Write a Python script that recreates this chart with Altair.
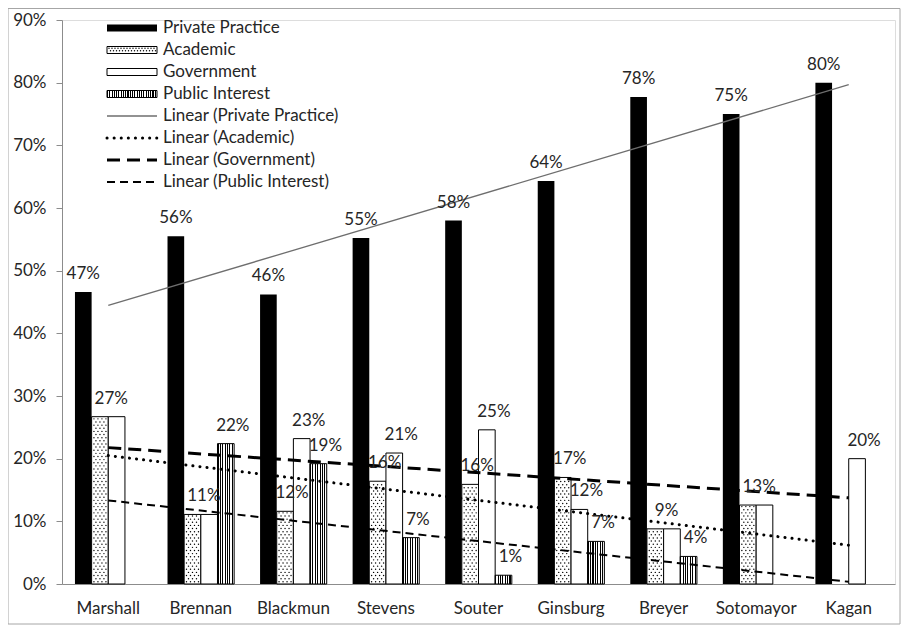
import json
import altair as alt
import pandas as pd

# ---------------- data ----------------
justices = ["Marshall", "Brennan", "Blackmun", "Stevens", "Souter",
            "Ginsburg", "Breyer", "Sotomayor", "Kagan"]
series = ["Private Practice", "Academic", "Government", "Public Interest"]
private_practice = [46.6, 55.5, 46.2, 55.2, 58.0, 64.3, 77.7, 75.0, 80.0]
academic = [26.7, 11.1, 11.6, 16.4, 15.9, 17.0, 8.8, 12.6, 0.0]
government = [26.7, 11.1, 23.2, 20.9, 24.6, 11.9, 8.8, 12.6, 20.0]
public_interest = [0.0, 22.4, 19.2, 7.4, 1.4, 6.8, 4.4, 0.0, 0.0]
y_ticks = [0, 10, 20, 30, 40, 50, 60, 70, 80, 90]
legend_labels = ["Private Practice", "Academic", "Government", "Public Interest",
                 "Linear (Private Practice)", "Linear (Academic)",
                 "Linear (Government)", "Linear (Public Interest)"]

# ---------------- table ----------------
rows = []
for i, j in enumerate(justices):
    for s, vals in zip(series, [private_practice, academic, government, public_interest]):
        tie = s in ("Academic", "Government") and academic[i] == government[i]
        rows.append({"justice": j, "idx": i + 1, "series": s, "value": vals[i], "tie": tie})
df = pd.DataFrame(rows)

FONT = "Lato"
FS = 17
TXT = "#262626"
W, H = 833, 564
PAD_TOP = 12

x_enc = alt.X("justice:N", sort=justices,
              scale=alt.Scale(domain=justices, paddingInner=0.28, paddingOuter=0.14),
              axis=alt.Axis(title=None, labelAngle=0, ticks=False, domainColor="#8c8c8c",
                            labelPadding=16, labelFontSize=FS, labelFont=FONT,
                            labelColor=TXT))
xo_enc = alt.XOffset("series:N", scale=alt.Scale(domain=series))
y_axis = alt.Axis(title=None, values=y_ticks, labelExpr="datum.value + '%'", grid=False,
                  tickSize=6, tickColor="#8c8c8c", domainColor="#8c8c8c",
                  labelPadding=10, labelFontSize=FS, labelFont=FONT, labelColor=TXT)
y_scale = alt.Scale(domain=[0, 90], nice=False)
y_enc = alt.Y("value:Q", scale=y_scale, axis=y_axis)

base = alt.Chart(df)

layers = []

# outer border of the chart area
one = pd.DataFrame({"a": [0]})
layers.append(alt.Chart(one).mark_rect(fillOpacity=0, stroke="#a6a6a6", strokeWidth=1).encode(
    x=alt.value(-54), x2=alt.value(W + 5), y=alt.value(-PAD_TOP + 0.5), y2=alt.value(H + 40)))

# bars
layers.append(base.transform_filter("datum.series == 'Private Practice'").mark_bar(
    color="black").encode(x=x_enc, xOffset=xo_enc, y=y_enc))
layers.append(base.transform_filter(
    "(datum.series == 'Academic' || datum.series == 'Government') && datum.value > 0").mark_bar(
    fill="white", stroke="black", strokeWidth=1).encode(x=x_enc, xOffset=xo_enc, y=y_enc))


def stripes(n, frac=0.45):
    stops = []
    for k in range(n):
        a = k / n
        b = (k + frac) / n
        stops += [{"offset": a, "color": "black"}, {"offset": b, "color": "black"},
                  {"offset": b, "color": "white"}, {"offset": (k + 1) / n, "color": "white"}]
    return {"gradient": "linear", "x1": 0, "x2": 1, "y1": 0, "y2": 0, "stops": stops}


layers.append(base.transform_filter(
    "datum.series == 'Public Interest' && datum.value > 0").mark_bar(
    fill=stripes(7), stroke="black", strokeWidth=1).encode(x=x_enc, xOffset=xo_enc, y=y_enc))

# stipple dots on academic bars (Academic bar centre relative to group centre)
sub_w = 66.67 / 4
acad_center = -sub_w / 2
for start, offs in [(0.35, [-6, -2, 2, 6]), (0.85, [-4, 0, 4])]:
    for d in offs:
        layers.append(base.transform_filter(
            "datum.series == 'Academic' && datum.value > 0").transform_calculate(
            ys=f"sequence({start}, datum.value - 0.15, 1.0)").transform_flatten(
            ["ys"]).mark_circle(size=2, color="black", opacity=1,
                                xOffset=acad_center + d).encode(
            x=x_enc, y=alt.Y("ys:Q", scale=y_scale, axis=y_axis)))

# trend lines
styles = {
    "Private Practice": dict(color="#6e6e6e", strokeWidth=1.3),
    "Academic": dict(color="black", strokeWidth=3, strokeDash=[0.1, 7], strokeCap="round"),
    "Government": dict(color="black", strokeWidth=3, strokeDash=[13, 7]),
    "Public Interest": dict(color="black", strokeWidth=2, strokeDash=[8, 5]),
}
names_js = json.dumps(justices)
for s in series:
    layers.append(base.transform_filter(f"datum.series == '{s}'").transform_regression(
        "idx", "value", extent=[1, 9]).transform_calculate(
        justice=f"{names_js}[round(datum.idx) - 1]").mark_line(**styles[s]).encode(
        x=x_enc, y=y_enc))

# data labels
lab = base.transform_calculate(label="round(datum.value) + '%'")
layers.append(lab.transform_filter("datum.series == 'Private Practice'").mark_text(
    baseline="bottom", dy=-9, fontSize=FS, font=FONT, color=TXT).encode(
    x=x_enc, xOffset=xo_enc, y=y_enc, text="label:N"))
layers.append(lab.transform_filter(
    "datum.series != 'Private Practice' && datum.value > 0 && !datum.tie").mark_text(
    baseline="bottom", dy=-9, dx=7, fontSize=FS, font=FONT, color=TXT).encode(
    x=x_enc, xOffset=xo_enc, y=y_enc, text="label:N"))
layers.append(lab.transform_filter(
    "datum.series == 'Academic' && datum.tie").mark_text(
    baseline="bottom", dy=-9, dx=3, fontSize=FS, font=FONT, color=TXT).encode(
    x=x_enc, y=y_enc, text="label:N"))

# legend
LX0, LX1, LT = 45, 95, 101
row_y = [8 + 22 * i for i in range(len(legend_labels))]
for i, name in enumerate(legend_labels):
    layers.append(alt.Chart(one).mark_text(align="left", baseline="middle", fontSize=FS,
                                           font=FONT, color=TXT).encode(
        x=alt.value(LT), y=alt.value(row_y[i]), text=alt.value(name)))
sw = dict(x=alt.value(LX0), x2=alt.value(LX1))
layers.append(alt.Chart(one).mark_rect(color="black").encode(
    **sw, y=alt.value(row_y[0] - 3.5), y2=alt.value(row_y[0] + 3.5)))
layers.append(alt.Chart(one).mark_rect(fill="white", stroke="black", strokeWidth=1).encode(
    **sw, y=alt.value(row_y[1] - 3.5), y2=alt.value(row_y[1] + 3.5)))
dots = pd.DataFrame([{"px": LX0 + 2 + 3 * k + (1.5 if r % 2 else 0), "py": row_y[1] - 1.8 + 2.6 * r}
                     for r in range(2) for k in range(16)])
layers.append(alt.Chart(dots).mark_circle(size=2, color="black", opacity=1).encode(
    x=alt.X("px:Q", scale=None, axis=None), y=alt.Y("py:Q", scale=None, axis=None)))
layers.append(alt.Chart(one).mark_rect(fill="white", stroke="black", strokeWidth=1).encode(
    **sw, y=alt.value(row_y[2] - 3.5), y2=alt.value(row_y[2] + 3.5)))
layers.append(alt.Chart(one).mark_rect(fill=stripes(22, 0.5), stroke="black", strokeWidth=1).encode(
    **sw, y=alt.value(row_y[3] - 3.5), y2=alt.value(row_y[3] + 3.5)))
for i, s in enumerate(series):
    layers.append(alt.Chart(one).mark_rule(**styles[s]).encode(
        **sw, y=alt.value(row_y[4 + i])))

chart = alt.layer(*layers).properties(
    width=W, height=H,
    autosize=alt.AutoSizeParams(type="none"),
    padding={"left": 54, "top": PAD_TOP, "right": 6, "bottom": 41},
).configure_view(stroke=None).configure(background="white")

chart.save("out.html", embed_options={"renderer": "svg", "actions": False})
